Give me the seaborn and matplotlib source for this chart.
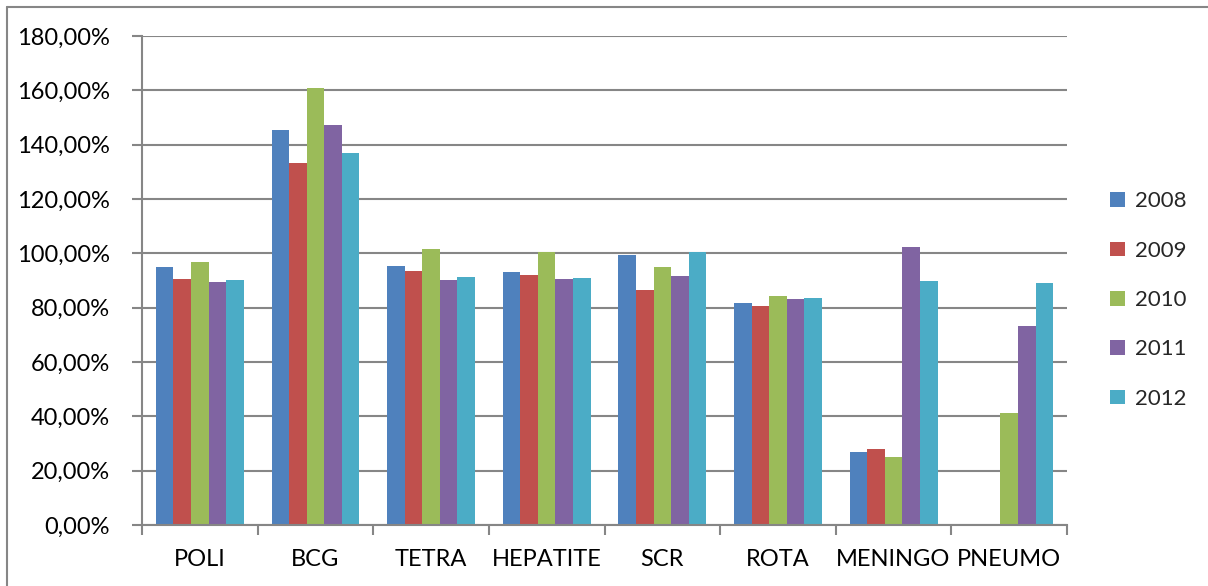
import matplotlib
matplotlib.use("Agg")
import matplotlib.pyplot as plt
import matplotlib.lines as mlines
from matplotlib.ticker import FuncFormatter, MultipleLocator
import seaborn as sns
import pandas as pd

categories = ["POLI", "BCG", "TETRA", "HEPATITE", "SCR", "ROTA", "MENINGO", "PNEUMO"]
years = ["2008", "2009", "2010", "2011", "2012"]
v2008 = [95.0, 145.3, 95.2, 93.1, 99.3, 81.6, 26.8, None]
v2009 = [90.4, 133.3, 93.6, 91.9, 86.4, 80.6, 27.8, None]
v2010 = [96.7, 161.0, 101.5, 100.4, 95.0, 84.2, 25.0, 41.2]
v2011 = [89.3, 147.1, 90.1, 90.6, 91.7, 83.1, 102.5, 73.4]
v2012 = [90.2, 137.0, 91.3, 90.8, 100.6, 83.6, 90.0, 88.9]
colors = ["#4F81BD", "#C0504D", "#9BBB59", "#8064A2", "#4BACC6"]

rows = []
for y, vals in zip(years, [v2008, v2009, v2010, v2011, v2012]):
    for c, v in zip(categories, vals):
        rows.append({"cat": c, "year": y, "val": v if v is not None else 0.0})
df = pd.DataFrame(rows)

sns.set_theme(style="white")
plt.rcParams["font.family"] = ["Lato", "DejaVu Sans"]

fig = plt.figure(figsize=(12.08, 5.86), dpi=100)
ax = fig.add_axes([142 / 1208, 61 / 586, (1067 - 142) / 1208, (525 - 36) / 586])

sns.barplot(data=df, x="cat", y="val", hue="year", order=categories,
            hue_order=years, palette=colors, width=0.76, ax=ax,
            errorbar=None, saturation=1, linewidth=0, legend=True)

ax.set_ylim(0, 180)
ax.set_xlim(-0.5, len(categories) - 0.5)
ax.yaxis.set_major_locator(MultipleLocator(20))
ax.yaxis.set_major_formatter(FuncFormatter(lambda v, p: f"{v:.2f}%".replace(".", ",")))
ax.grid(axis="y", color="#868686", linewidth=1.5)
ax.set_axisbelow(True)
ax.set_xlabel("")
ax.set_ylabel("")
for s in ["top", "right"]:
    ax.spines[s].set_visible(False)
for s in ["left", "bottom"]:
    ax.spines[s].set_color("#868686")
    ax.spines[s].set_linewidth(1.5)

# category separator ticks
ax.set_xticks([i - 0.5 for i in range(len(categories) + 1)], minor=False)
ax.set_xticklabels([])
ax.set_xticks(range(len(categories)), minor=True)
ax.set_xticklabels(categories, minor=True)
ax.tick_params(axis="x", which="major", length=7, width=1.5, color="#868686", direction="out", bottom=True)
ax.tick_params(axis="x", which="minor", length=0, labelsize=17, pad=17, labelcolor="black")
ax.tick_params(axis="y", length=7, width=1.5, color="#868686", direction="out", left=True,
               labelsize=17, labelcolor="black", pad=16)

h, l = ax.get_legend_handles_labels()
ax.legend(h, l, loc="center left", bbox_to_anchor=(1.025, 0.46), frameon=False,
          fontsize=16, handlelength=0.65, handleheight=0.65, labelspacing=1.32,
          handletextpad=0.45)

fig.add_artist(mlines.Line2D([6.5 / 1208, 1], [1 - 6.5 / 586, 1 - 6.5 / 586],
                             color="#868686", linewidth=1.5, transform=fig.transFigure))
fig.add_artist(mlines.Line2D([6.5 / 1208, 6.5 / 1208], [0, 1 - 6.5 / 586],
                             color="#868686", linewidth=1.5, transform=fig.transFigure))

fig.savefig("out.png", dpi=100, facecolor="white")
